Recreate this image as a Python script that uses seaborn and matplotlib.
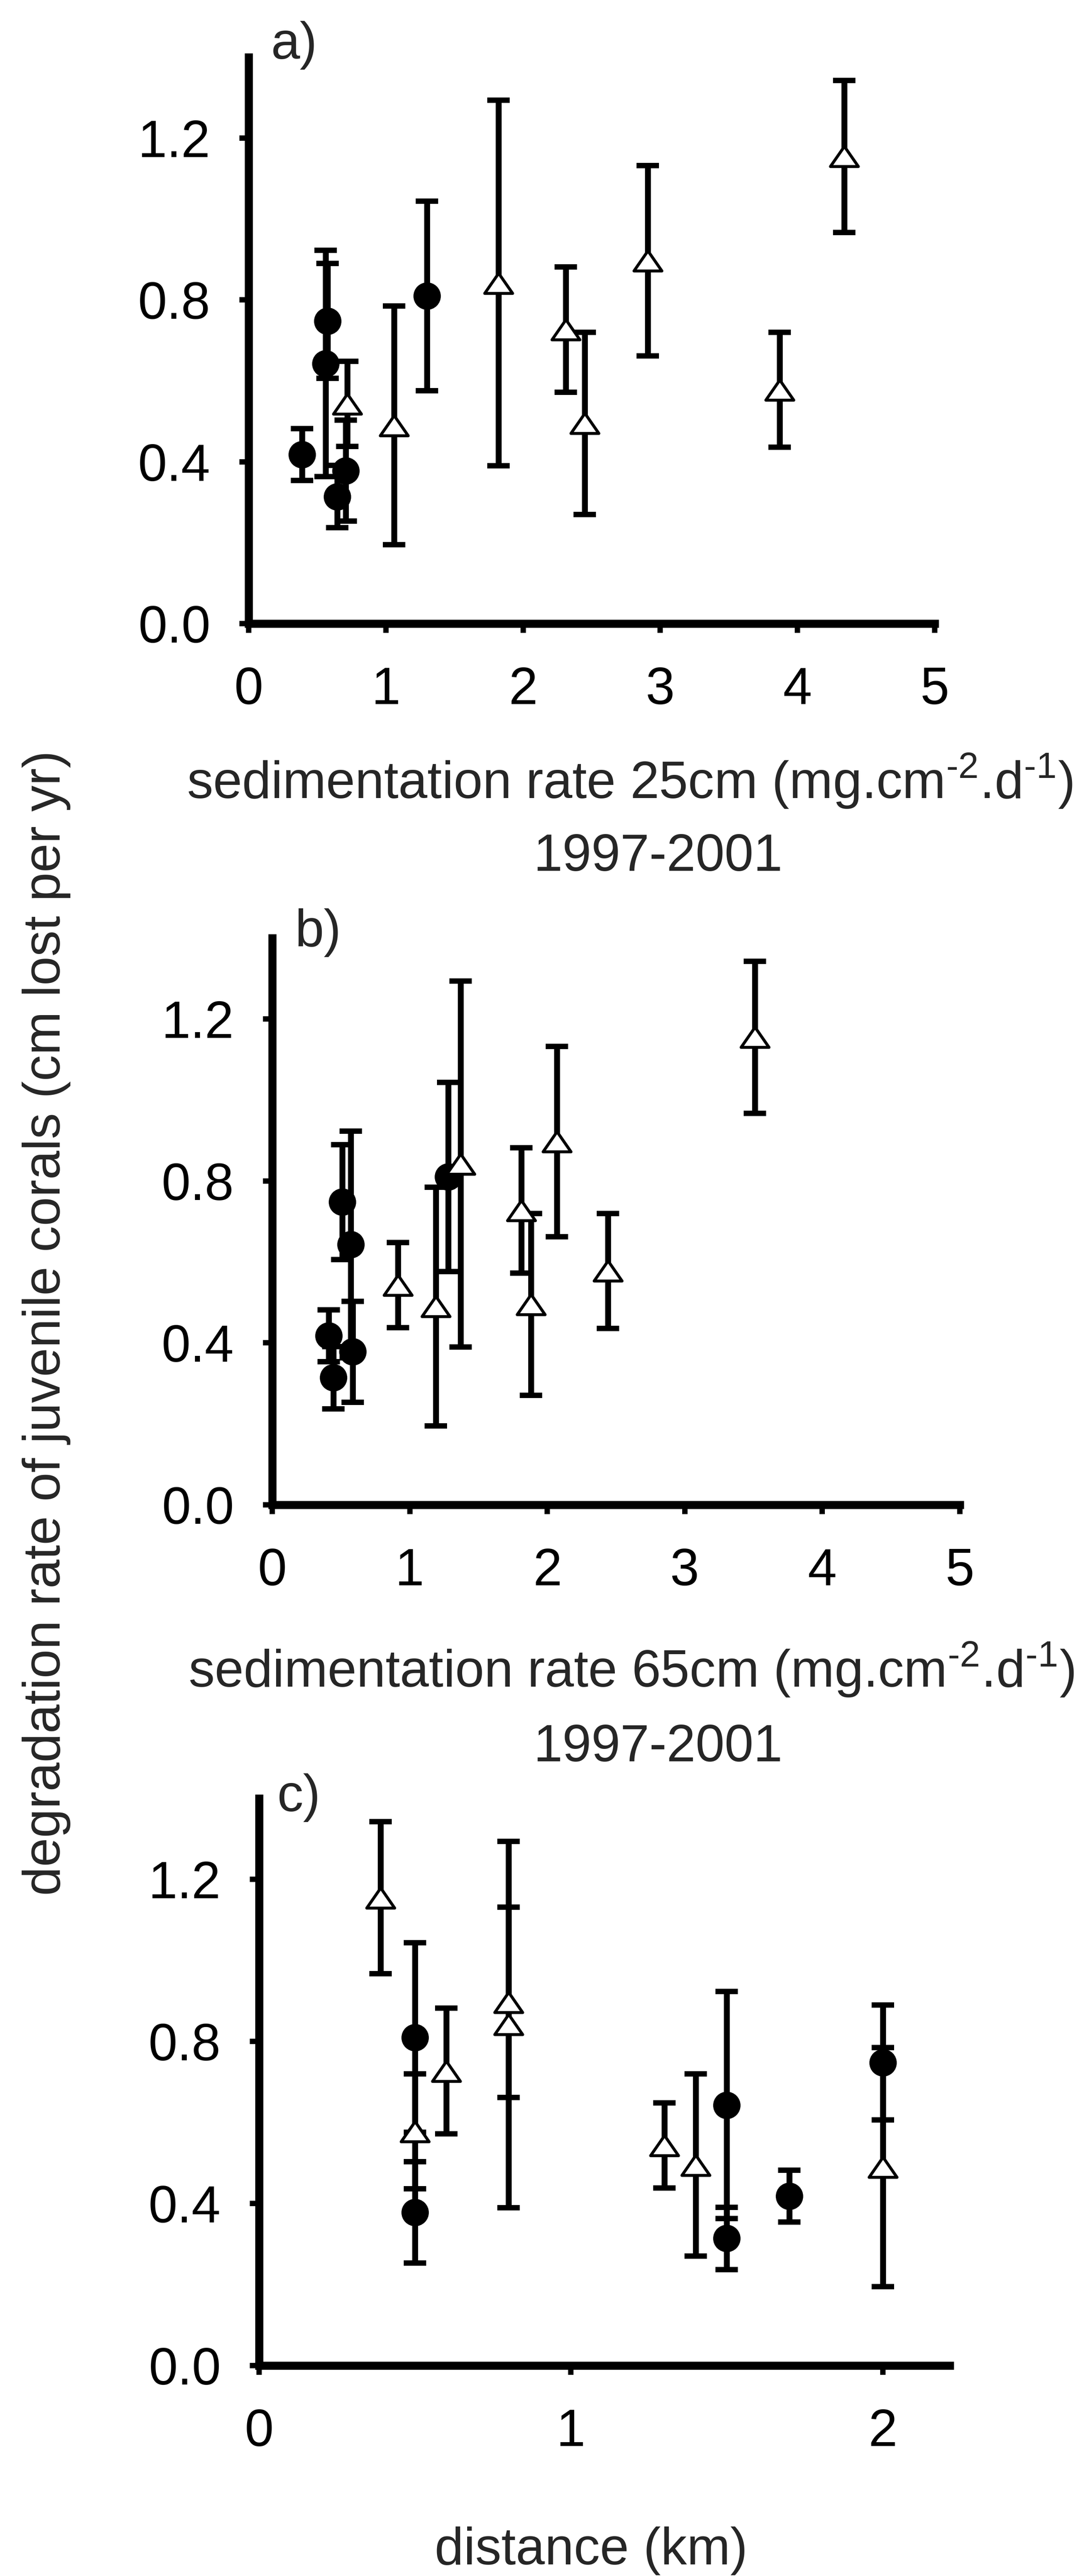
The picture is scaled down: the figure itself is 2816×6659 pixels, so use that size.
import matplotlib
matplotlib.use("Agg")
import matplotlib.pyplot as plt
from matplotlib.path import Path
import seaborn as sns

# Degradation rate (cm lost per yr) with error, sites drawn as filled circles
circle_rate = [0.418, 0.748, 0.643, 0.378, 0.314, 0.810]
circle_err = [0.064, 0.142, 0.280, 0.125, 0.077, 0.234]
circle_sed25 = [0.39, 0.574, 0.56, 0.707, 0.645, 1.30]
circle_sed65 = [0.41, 0.51, 0.57, 0.585, 0.445, 1.28]
circle_dist = [1.70, 2.00, 1.50, 0.50, 1.50, 0.50]

# Sites drawn as open triangles
tri_rate = [1.155, 0.578, 0.727, 0.842, 0.897, 0.543, 0.495, 0.490]
tri_err = [0.188, 0.142, 0.155, 0.452, 0.235, 0.105, 0.225, 0.295]
tri_sed25 = [4.34, 3.87, 2.31, 1.82, 2.91, 0.72, 2.45, 1.06]
tri_sed65 = [3.51, 2.44, 1.81, 1.37, 2.07, 0.915, 1.88, 1.19]
tri_dist = [0.39, 0.50, 0.60, 0.80, 0.80, 1.30, 1.40, 2.00]

y_ticks = [0.0, 0.4, 0.8, 1.2]
y_tick_labels = ["0.0", "0.4", "0.8", "1.2"]
sed_ticks = [0, 1, 2, 3, 4, 5]
dist_ticks = [0, 1, 2]

sns.set_theme(style="ticks")
plt.rcParams["font.family"] = ["Liberation Sans", "DejaVu Sans"]
plt.rcParams["mathtext.fontset"] = "custom"
plt.rcParams["mathtext.rm"] = "Liberation Sans"

W, H, DPI = 2816, 6659, 100
FS = 97
fig = plt.figure(figsize=(W / DPI, H / DPI), dpi=DPI, facecolor="white")


def rect(left, right, bottom, height):
    return [left / W, 1 - bottom / H, (right - left) / W, height / H]


def fy(py):
    return 1 - py / H


tri_marker = Path([(0, 0.72), (-1, -0.72), (1, -0.72), (0, 0.72)],
                  [Path.MOVETO, Path.LINETO, Path.LINETO, Path.CLOSEPOLY])


def draw_panel(ax, cx, tx, xmax, xticks):
    bar_kw = dict(fmt="none", ecolor="black", elinewidth=11, capsize=21,
                  capthick=10, zorder=2, clip_on=False)
    ax.errorbar(cx, circle_rate, yerr=circle_err, **bar_kw)
    ax.errorbar(tx, tri_rate, yerr=tri_err, **bar_kw)
    sns.scatterplot(x=cx, y=circle_rate, ax=ax, marker="o", s=2600,
                    color="black", edgecolor="black", linewidth=0,
                    zorder=3, clip_on=False)
    sns.scatterplot(x=tx, y=tri_rate, ax=ax, marker=tri_marker, s=2700,
                    color="white", edgecolor="black", linewidth=5.5,
                    zorder=4, clip_on=False)
    ax.set_xlim(0, xmax)
    ax.set_ylim(0, 1.4)
    ax.set_xticks(xticks)
    ax.set_xticklabels([str(t) for t in xticks])
    ax.set_yticks(y_ticks)
    ax.set_yticklabels(y_tick_labels)
    ax.set_xlabel("")
    ax.set_ylabel("")
    sns.despine(ax=ax)
    for side in ("left", "bottom"):
        ax.spines[side].set_linewidth(15)
        ax.spines[side].set_color("black")
    ax.tick_params(axis="both", direction="out", length=17, width=10,
                   labelsize=FS, colors="black")
    ax.tick_params(axis="y", pad=54)
    ax.tick_params(axis="x", pad=62)
    ax.set_facecolor("white")


ax_a = fig.add_axes(rect(643, 2417, 1612, 1464))
draw_panel(ax_a, circle_sed25, tri_sed25, 5, sed_ticks)

ax_b = fig.add_axes(rect(704, 2482, 3890, 1465))
draw_panel(ax_b, circle_sed65, tri_sed65, 5, sed_ticks)

ax_c = fig.add_axes(rect(670, 2456, 6115, 1466))
draw_panel(ax_c, circle_dist, tri_dist, 2.215, dist_ticks)

# Panel letters
fig.text(700 / W, fy(54), "a)", ha="left", va="top", fontsize=FS)
fig.text(762 / W, fy(2348), "b)", ha="left", va="top", fontsize=FS)
fig.text(716 / W, fy(4584), "c)", ha="left", va="top", fontsize=FS)

# Axis titles (short hyphen in the exponents)
unit = "(mg.cm$^{\\mathregular{\u20102}}$.d$^{\\mathregular{\u20101}}$)"
fig.text(1628 / W, fy(2064), "sedimentation rate 25cm " + unit,
         ha="center", va="baseline", fontsize=FS)
fig.text(1702 / W, fy(2251), "1997-2001", ha="center", va="baseline", fontsize=FS)
fig.text(1632 / W, fy(4361), "sedimentation rate 65cm " + unit,
         ha="center", va="baseline", fontsize=FS)
fig.text(1702 / W, fy(4553), "1997-2001", ha="center", va="baseline", fontsize=FS)
fig.text(1529 / W, fy(6629), "distance (km)", ha="center", va="baseline", fontsize=FS)
fig.text(120 / W, fy(3420), "degradation rate of juvenile corals (cm lost per yr)",
         rotation=90, ha="center", va="center", fontsize=FS)

fig.savefig("out.png", dpi=DPI, facecolor="white")
